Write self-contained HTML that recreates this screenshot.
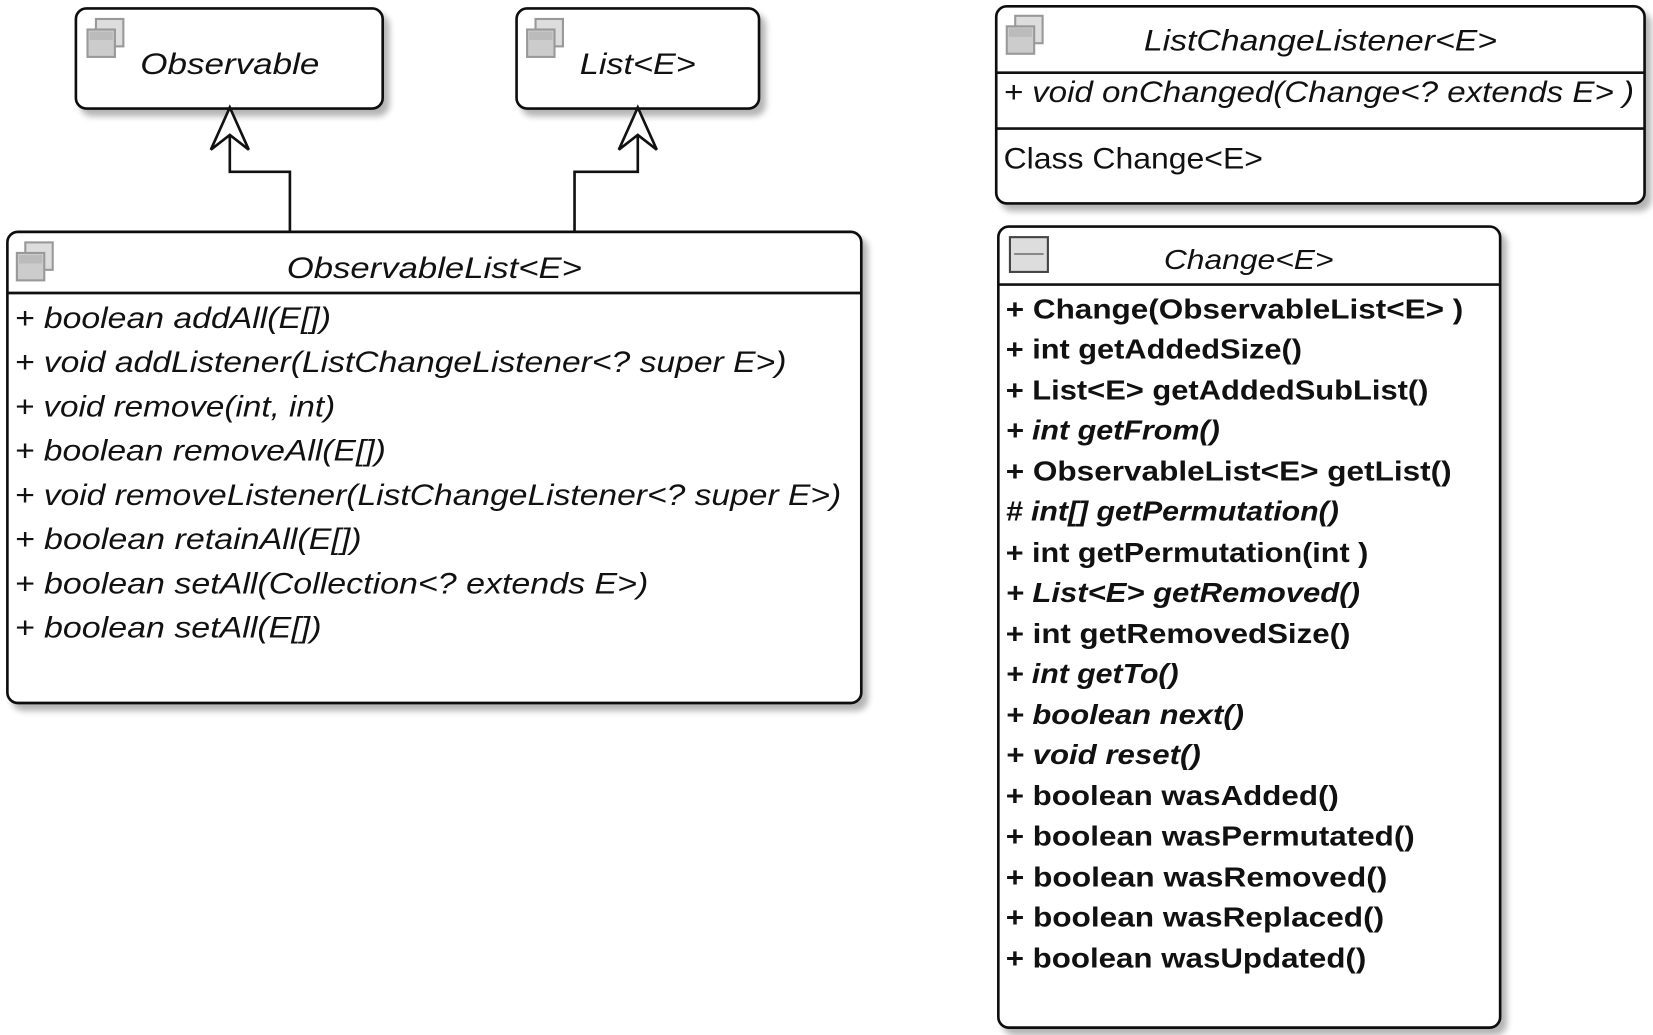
<!DOCTYPE html>
<html><head><meta charset="utf-8"><style>
html,body{margin:0;padding:0;background:#fff;width:1653px;height:1035px;overflow:hidden}
svg{display:block}
text{font-family:"Liberation Sans",Arial,sans-serif;fill:#111}
.i{font-style:italic}
.b{font-weight:bold}
</style></head><body>
<svg width="1653" height="1035" viewBox="0 0 1568 982" preserveAspectRatio="none" xmlns="http://www.w3.org/2000/svg">
<defs>
<filter id="sh" x="-5%" y="-5%" width="115%" height="115%">
<feGaussianBlur in="SourceAlpha" stdDeviation="3"/>
<feOffset dx="5" dy="6"/>
<feComponentTransfer><feFuncA type="linear" slope="0.3"/></feComponentTransfer>
<feMerge><feMergeNode/><feMergeNode in="SourceGraphic"/></feMerge>
</filter>
<g id="ico">
<rect x="8" y="0" width="26" height="26" fill="#ddd" stroke="#999" stroke-width="2"/>
<rect x="0" y="10" width="26" height="26" fill="#ccc" stroke="#999" stroke-width="2"/>
<rect x="2" y="12" width="22" height="8" fill="#bbb"/>
</g>
</defs>
<g fill="#fff" stroke="#111" stroke-width="2.5" filter="url(#sh)">
<rect x="72" y="8" width="291" height="95" rx="10"/>
<rect x="490" y="8" width="230" height="95" rx="10"/>
<rect x="7" y="220" width="810" height="447" rx="10"/>
<rect x="945" y="6" width="615" height="187" rx="10"/>
<rect x="947" y="215" width="476" height="760" rx="10"/>
</g>
<g stroke="#111" stroke-width="2.5" fill="none">
<line x1="7" y1="278" x2="817" y2="278"/>
<line x1="945" y1="69" x2="1560" y2="69"/>
<line x1="945" y1="122" x2="1560" y2="122"/>
<line x1="947" y1="270" x2="1423" y2="270"/>
<polyline points="275,220 275,163 218,163 218,102"/>
<polyline points="545,220 545,163 605,163 605,102"/>
<path d="M200,142 L218,102 L236,142 L218,128 Z" fill="#fff"/>
<path d="M587,142 L605,102 L623,142 L605,128 Z" fill="#fff"/>
</g>
<use href="#ico" x="83" y="18"/>
<use href="#ico" x="500" y="18"/>
<use href="#ico" x="16" y="230"/>
<use href="#ico" x="955" y="15"/>
<rect x="958" y="225" width="36" height="33" fill="#ddd" stroke="#444" stroke-width="2"/>
<line x1="962" y1="241" x2="990" y2="241" stroke="#888" stroke-width="2"/>

<g class="i" font-size="28">
<text x="133" y="70" textLength="170" lengthAdjust="spacingAndGlyphs">Observable</text>
<text x="550" y="70" textLength="110" lengthAdjust="spacingAndGlyphs">List&lt;E&gt;</text>
<text x="272" y="264" textLength="280" lengthAdjust="spacingAndGlyphs">ObservableList&lt;E&gt;</text>
<text x="1085" y="48" textLength="335" lengthAdjust="spacingAndGlyphs">ListChangeListener&lt;E&gt;</text>
<text x="952" y="97" textLength="598" lengthAdjust="spacingAndGlyphs">+ void onChanged(Change&lt;? extends E&gt; )</text>
</g>
<text x="952" y="160" font-size="28" textLength="246" lengthAdjust="spacingAndGlyphs">Class Change&lt;E&gt;</text>
<text x="1104" y="255" class="i" font-size="26" textLength="161" lengthAdjust="spacingAndGlyphs">Change&lt;E&gt;</text>

<g class="i" font-size="28">
<text x="14" y="311" textLength="300" lengthAdjust="spacingAndGlyphs">+ boolean addAll(E[])</text>
<text x="14" y="353" textLength="732" lengthAdjust="spacingAndGlyphs">+ void addListener(ListChangeListener&lt;? super E&gt;)</text>
<text x="14" y="395" textLength="304" lengthAdjust="spacingAndGlyphs">+ void remove(int, int)</text>
<text x="14" y="437" textLength="352" lengthAdjust="spacingAndGlyphs">+ boolean removeAll(E[])</text>
<text x="14" y="479" textLength="784" lengthAdjust="spacingAndGlyphs">+ void removeListener(ListChangeListener&lt;? super E&gt;)</text>
<text x="14" y="521" textLength="329" lengthAdjust="spacingAndGlyphs">+ boolean retainAll(E[])</text>
<text x="14" y="563" textLength="601" lengthAdjust="spacingAndGlyphs">+ boolean setAll(Collection&lt;? extends E&gt;)</text>
<text x="14" y="605" textLength="291" lengthAdjust="spacingAndGlyphs">+ boolean setAll(E[])</text>
</g>

<g class="b" font-size="26">
<text x="954" y="302" textLength="434" lengthAdjust="spacingAndGlyphs">+ Change(ObservableList&lt;E&gt; )</text>
<text x="954" y="340" textLength="281" lengthAdjust="spacingAndGlyphs">+ int getAddedSize()</text>
<text x="954" y="379" textLength="401" lengthAdjust="spacingAndGlyphs">+ List&lt;E&gt; getAddedSubList()</text>
<text x="954" y="417" class="i" textLength="203" lengthAdjust="spacingAndGlyphs">+ int getFrom()</text>
<text x="954" y="456" textLength="423" lengthAdjust="spacingAndGlyphs">+ ObservableList&lt;E&gt; getList()</text>
<text x="954" y="494" class="i" textLength="316" lengthAdjust="spacingAndGlyphs"># int[] getPermutation()</text>
<text x="954" y="533" textLength="344" lengthAdjust="spacingAndGlyphs">+ int getPermutation(int )</text>
<text x="954" y="571" class="i" textLength="336" lengthAdjust="spacingAndGlyphs">+ List&lt;E&gt; getRemoved()</text>
<text x="954" y="610" textLength="327" lengthAdjust="spacingAndGlyphs">+ int getRemovedSize()</text>
<text x="954" y="648" class="i" textLength="164" lengthAdjust="spacingAndGlyphs">+ int getTo()</text>
<text x="954" y="687" class="i" textLength="226" lengthAdjust="spacingAndGlyphs">+ boolean next()</text>
<text x="954" y="725" class="i" textLength="185" lengthAdjust="spacingAndGlyphs">+ void reset()</text>
<text x="954" y="764" textLength="316" lengthAdjust="spacingAndGlyphs">+ boolean wasAdded()</text>
<text x="954" y="802" textLength="388" lengthAdjust="spacingAndGlyphs">+ boolean wasPermutated()</text>
<text x="954" y="841" textLength="362" lengthAdjust="spacingAndGlyphs">+ boolean wasRemoved()</text>
<text x="954" y="879" textLength="359" lengthAdjust="spacingAndGlyphs">+ boolean wasReplaced()</text>
<text x="954" y="918" textLength="342" lengthAdjust="spacingAndGlyphs">+ boolean wasUpdated()</text>
</g>
</svg>
</body></html>
